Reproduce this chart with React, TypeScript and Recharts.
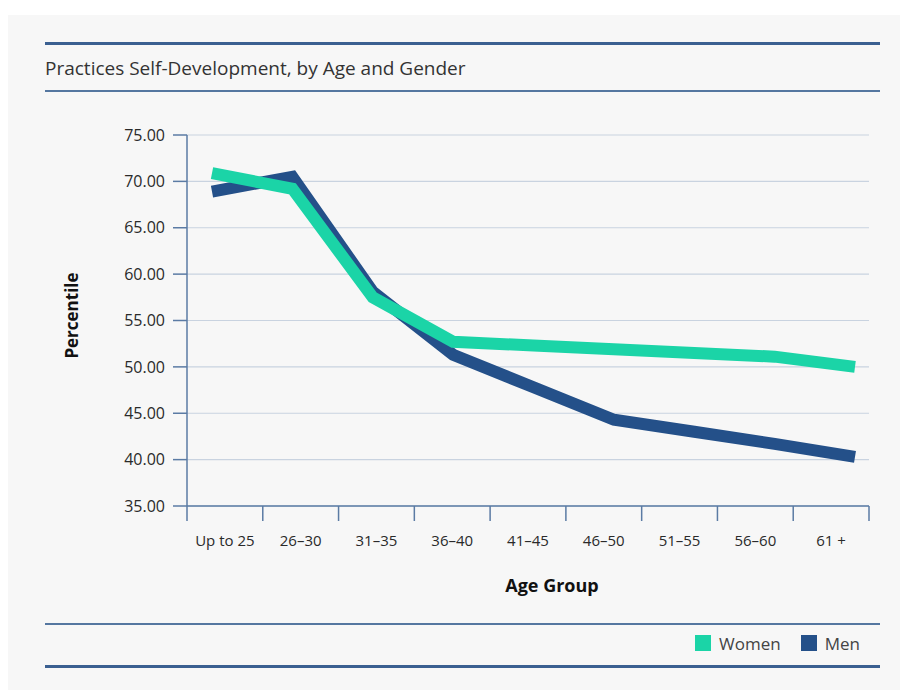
import { LineChart, Line, XAxis, YAxis, CartesianGrid, Label } from "recharts";

const ageGroups = ["Up to 25", "26–30", "31–35", "36–40", "41–45", "46–50", "51–55", "56–60", "61 +"];
const womenScores = [70.9, 69.2, 57.5, 52.7, 52.3, 51.9, 51.5, 51.1, 50.0];
const menScores = [68.9, 70.5, 58.1, 51.3, 47.8, 44.3, 43.0, 41.7, 40.3];
const percentileTicks = [35, 40, 45, 50, 55, 60, 65, 70, 75];

// men drawn first so the women line sits on top
const series = [
  { key: "men", name: "Men", color: "#245089" },
  { key: "women", name: "Women", color: "#1bd4a7" },
];
const legendOrder = ["women", "men"];

const data = ageGroups.map((group, i) => ({
  group,
  women: womenScores[i],
  men: menScores[i],
}));

const FONT = '"Open Sans", sans-serif';
const CHART_W = 892;
const CHART_H = 600;
const MARGIN = { top: 120, right: 31, bottom: 49, left: 69 };
const Y_AXIS_W = 110;
const PLOT_W = CHART_W - MARGIN.left - MARGIN.right - Y_AXIS_W;
const BAND = PLOT_W / ageGroups.length;
const AXIS_COLOR = "#5b7ba4";
const RULE_COLOR = "#3b6091";

function AgeTick({ x, y, payload, index }: any) {
  const i = index ?? payload.index;
  const left = x - BAND / 2;
  return (
    <g>
      <line x1={left} y1={y} x2={left} y2={y + 15} stroke={AXIS_COLOR} strokeWidth={1.5} />
      {i === ageGroups.length - 1 && (
        <line x1={x + BAND / 2} y1={y} x2={x + BAND / 2} y2={y + 15} stroke={AXIS_COLOR} strokeWidth={1.5} />
      )}
      <text
        x={x}
        y={y + 34}
        textAnchor="middle"
        dominantBaseline="central"
        fontFamily={FONT}
        fontSize={15}
        fill="#2a2a2a"
      >
        {payload.value}
      </text>
    </g>
  );
}

export default function App() {
  return (
    <div style={{ paddingTop: 7 }}>
      <div
        style={{
          position: "relative",
          width: CHART_W,
          height: 675,
          background: "#f7f7f7",
          fontFamily: FONT,
        }}
      >
        <div style={{ position: "absolute", left: 37, top: 27, width: 835, height: 3, background: RULE_COLOR }} />
        <div
          style={{
            position: "absolute",
            left: 37,
            top: 42,
            fontSize: 19,
            lineHeight: "22px",
            color: "#333",
          }}
        >
          Practices Self-Development, by Age and Gender
        </div>
        <div style={{ position: "absolute", left: 37, top: 75, width: 835, height: 2, background: "#5577a0" }} />

        <div style={{ position: "absolute", left: 0, top: 0 }}>
          <LineChart width={CHART_W} height={CHART_H} data={data} margin={MARGIN}>
            <CartesianGrid vertical={false} stroke="#c9d3e0" strokeWidth={1.2} />
            <XAxis
              dataKey="group"
              height={60}
              padding={{ left: BAND / 2, right: BAND / 2 }}
              interval={0}
              tickSize={0}
              tickMargin={0}
              tickLine={false}
              axisLine={{ stroke: AXIS_COLOR, strokeWidth: 1.5 }}
              tick={<AgeTick />}
            >
              <Label
                content={({ viewBox }: any) => (
                  <text
                    x={viewBox.x + viewBox.width / 2 + 24}
                    y={viewBox.y + 79}
                    textAnchor="middle"
                    dominantBaseline="central"
                    fontFamily={FONT}
                    fontSize={18}
                    fontWeight={700}
                    fill="#111"
                  >
                    Age Group
                  </text>
                )}
              />
            </XAxis>
            <XAxis xAxisId="pts" dataKey="group" hide height={0} padding={{ left: 25, right: 14 }} />
            <YAxis
              width={Y_AXIS_W}
              domain={[35, 75]}
              ticks={percentileTicks}
              interval={0}
              tickFormatter={(v: number) => v.toFixed(2)}
              tickSize={14}
              tickMargin={8}
              tick={{ fontFamily: FONT, fontSize: 16, fill: "#2a2a2a" }}
              tickLine={{ stroke: AXIS_COLOR, strokeWidth: 1.5 }}
              axisLine={{ stroke: AXIS_COLOR, strokeWidth: 1.5 }}
            >
              <Label
                content={({ viewBox }: any) => {
                  const cx = viewBox.x - 6;
                  const cy = viewBox.y + viewBox.height / 2 - 5;
                  return (
                    <text
                      x={cx}
                      y={cy}
                      transform={`rotate(-90, ${cx}, ${cy})`}
                      textAnchor="middle"
                      dominantBaseline="central"
                      fontFamily={FONT}
                      fontSize={17}
                      fontWeight={700}
                      fill="#111"
                    >
                      Percentile
                    </text>
                  );
                }}
              />
            </YAxis>
            {series.map((s) => (
              <Line
                key={s.key}
                xAxisId="pts"
                type="linear"
                dataKey={s.key}
                name={s.name}
                stroke={s.color}
                strokeWidth={12}
                dot={false}
                activeDot={false}
                isAnimationActive={false}
              />
            ))}
          </LineChart>
        </div>

        <div style={{ position: "absolute", left: 37, top: 608, width: 835, height: 2, background: "#5577a0" }} />
        <div
          style={{
            position: "absolute",
            right: 40,
            top: 618,
            height: 20,
            display: "flex",
            alignItems: "center",
            gap: 20,
            fontSize: 17,
            color: "#444",
          }}
        >
          {legendOrder.map((k) => {
            const s = series.find((d) => d.key === k)!;
            return (
              <div key={k} style={{ display: "flex", alignItems: "center", gap: 8 }}>
                <span style={{ width: 16, height: 16, background: s.color, display: "inline-block" }} />
                <span>{s.name}</span>
              </div>
            );
          })}
        </div>
        <div style={{ position: "absolute", left: 37, top: 650, width: 835, height: 3, background: RULE_COLOR }} />
      </div>
    </div>
  );
}
